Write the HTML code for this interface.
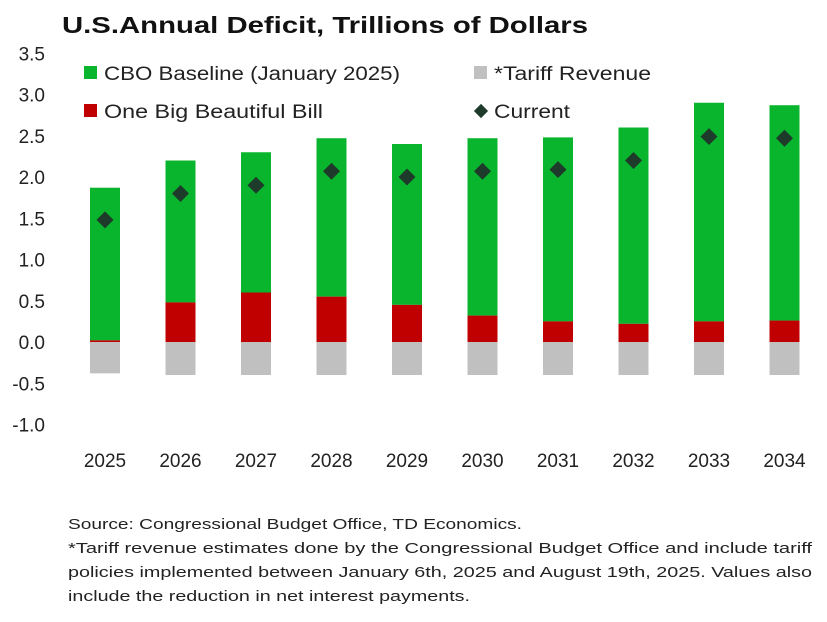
<!DOCTYPE html>
<html><head><meta charset="utf-8"><style>
body{margin:0;background:#fff;font-family:"Liberation Sans",sans-serif;}
svg text{font-family:"Liberation Sans",sans-serif;}
</style></head><body>
<svg id="chart" width="827" height="617">
<text x="62" y="33" font-size="23" font-weight="bold" fill="#111" textLength="526" lengthAdjust="spacingAndGlyphs">U.S.Annual Deficit, Trillions of Dollars</text>
<g id="yaxis"></g>
<g id="bars"></g>
<g id="xaxis"></g>
<g>
<g><rect x="84" y="66" width="13" height="13" fill="#08b52c"/><text x="104" y="80" font-size="19" fill="#222" textLength="296" lengthAdjust="spacingAndGlyphs">CBO Baseline (January 2025)</text></g>
<g><rect x="474" y="66" width="13" height="13" fill="#c0c0c0"/><text x="494" y="80" font-size="19" fill="#222" textLength="157" lengthAdjust="spacingAndGlyphs">*Tariff Revenue</text></g>
<g><rect x="84" y="104" width="13" height="13" fill="#c00000"/><text x="104" y="118" font-size="19" fill="#222" textLength="219" lengthAdjust="spacingAndGlyphs">One Big Beautiful Bill</text></g>
<g><rect x="476" y="106" width="10" height="10" fill="#1e3a2a" transform="rotate(45 481 111)"/><text x="494" y="118" font-size="19" fill="#222" textLength="76" lengthAdjust="spacingAndGlyphs">Current</text></g>
</g>
<g font-size="15" fill="#222">
<text x="68" y="529" textLength="454" lengthAdjust="spacingAndGlyphs">Source: Congressional Budget Office, TD Economics.</text>
<text x="68" y="553" textLength="744" lengthAdjust="spacingAndGlyphs">*Tariff revenue estimates done by the Congressional Budget Office and include tariff</text>
<text x="68" y="577" textLength="744" lengthAdjust="spacingAndGlyphs">policies implemented  between January 6th, 2025 and August 19th, 2025. Values also</text>
<text x="68" y="601" textLength="402" lengthAdjust="spacingAndGlyphs">include the reduction in net interest payments.</text>
</g>
</svg>
<script>
const years=["2025","2026","2027","2028","2029","2030","2031","2032","2033","2034"];
const totalDeficit=[1.87,2.2,2.3,2.47,2.4,2.47,2.48,2.6,2.9,2.87];
const obbb=[0.02,0.48,0.6,0.55,0.45,0.32,0.25,0.22,0.25,0.26];
const tariff=[-0.38,-0.4,-0.4,-0.4,-0.4,-0.4,-0.4,-0.4,-0.4,-0.4];
const current=[1.48,1.8,1.9,2.07,2.0,2.07,2.09,2.2,2.49,2.47];
const yTicks=[3.5,3.0,2.5,2.0,1.5,1.0,0.5,0.0,-0.5,-1.0];
const NS="http://www.w3.org/2000/svg";
const y=v=>342-v*82.5;
const x=i=>105+i*75.5;
const bw=30;
function mk(tag,attrs,parent){const e=document.createElementNS(NS,tag);for(const k in attrs)e.setAttribute(k,attrs[k]);parent.appendChild(e);return e;}
const ya=document.getElementById('yaxis');
yTicks.forEach(t=>{const e=mk('text',{x:45,y:y(t)+7,'text-anchor':'end','font-size':19,fill:'#222'},ya);


e.textContent=t.toFixed(1);});
const xa=document.getElementById('xaxis');
years.forEach((yr,i)=>{const e=mk('text',{x:x(i),y:467,'text-anchor':'middle','font-size':19,fill:'#222'},xa);


e.textContent=yr;});
const b=document.getElementById('bars');
years.forEach((yr,i)=>{
const g=mk('rect',{x:x(i)-bw/2,y:y(totalDeficit[i]),width:bw,height:y(obbb[i])-y(totalDeficit[i]),fill:'#08b52c'},b);


const r=mk('rect',{x:x(i)-bw/2,y:y(obbb[i]),width:bw,height:y(0)-y(obbb[i]),fill:'#c00000'},b);


const t=mk('rect',{x:x(i)-bw/2,y:y(0),width:bw,height:y(tariff[i])-y(0),fill:'#c0c0c0'},b);


const cy=y(current[i]);
const d=mk('rect',{x:x(i)-6,y:cy-6,width:12,height:12,fill:'#1e3a2a',transform:`rotate(45 ${x(i)} ${cy})`},b);


});
</script>
</body></html>
